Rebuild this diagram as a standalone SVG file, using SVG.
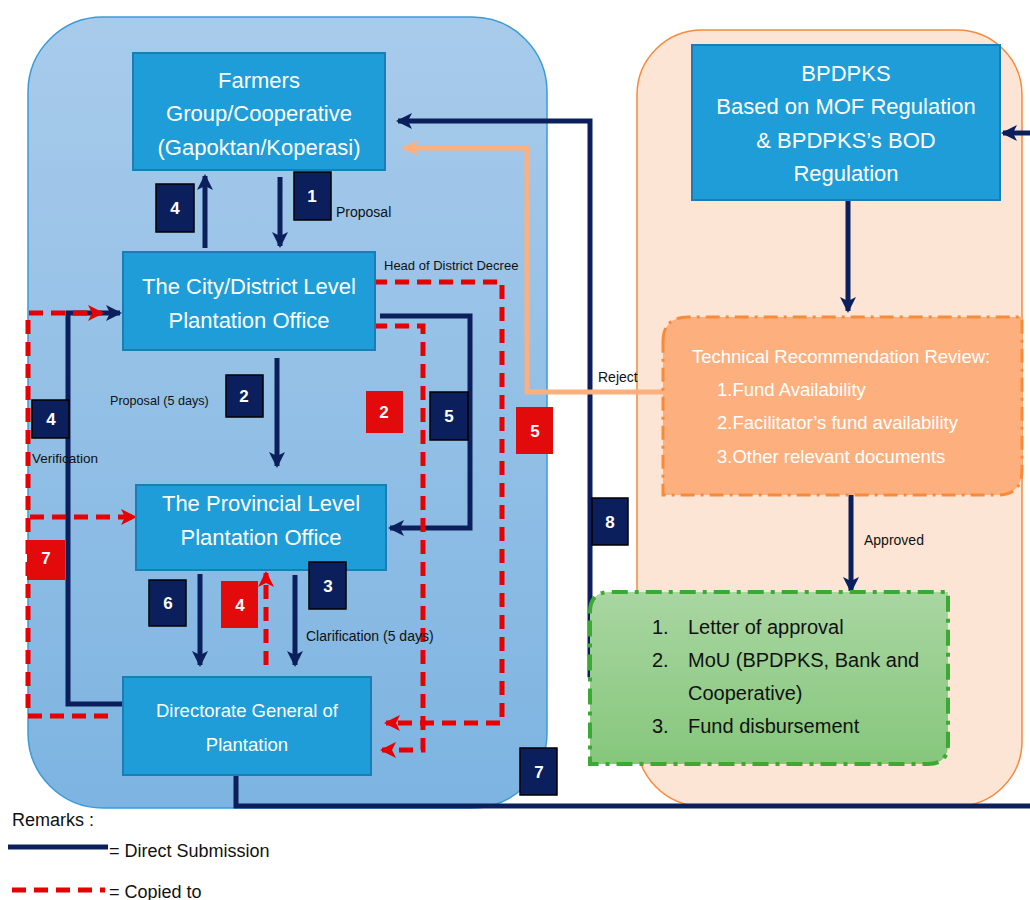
<svg xmlns="http://www.w3.org/2000/svg" width="1030" height="900" viewBox="0 0 1030 900">
<style>
.box{fill:#1e9dd8;stroke:#1a7db5;stroke-width:2}
.bt{fill:#fff;font-family:"Liberation Sans",Arial,sans-serif;font-size:22px;text-anchor:middle}
.nv{fill:#0b1f5c;stroke:#000;stroke-width:1.5}
.rd{fill:#e20a0a}
.nt{fill:#fff;font-family:"Liberation Sans",Arial,sans-serif;font-size:17px;font-weight:bold;text-anchor:middle}
.sm{fill:#111;font-family:"Liberation Sans",Arial,sans-serif;font-size:14px}
.ln{fill:none;stroke:#0b1f5c;stroke-width:5}
.dl{fill:none;stroke:#e60000;stroke-width:5;stroke-dasharray:14 8}
.ot{fill:#fff;font-family:"Liberation Sans",Arial,sans-serif;font-size:18.5px}
.gt{fill:#111;font-family:"Liberation Sans",Arial,sans-serif;font-size:20px}
.lg{fill:#111;font-family:"Liberation Sans",Arial,sans-serif;font-size:18px}
</style>
<defs>
<linearGradient id="gb" x1="0" y1="0" x2="0" y2="1"><stop offset="0" stop-color="#a8cbeb"/><stop offset="1" stop-color="#7db4e1"/></linearGradient>
<linearGradient id="gg" x1="0" y1="0" x2="0" y2="1"><stop offset="0" stop-color="#a9d6a1"/><stop offset="1" stop-color="#86c77c"/></linearGradient>
<marker id="an" markerUnits="userSpaceOnUse" markerWidth="18" markerHeight="18" refX="14" refY="9" orient="auto"><path d="M0,1 L16,9 L0,17 L4,9 Z" fill="#0b1f5c"/></marker>
<marker id="ar" markerUnits="userSpaceOnUse" markerWidth="18" markerHeight="18" refX="14" refY="9" orient="auto"><path d="M0,1 L16,9 L0,17 L4,9 Z" fill="#e60000"/></marker>
<marker id="ao" markerUnits="userSpaceOnUse" markerWidth="18" markerHeight="18" refX="14" refY="9" orient="auto"><path d="M0,1 L16,9 L0,17 L4,9 Z" fill="#fbb07e"/></marker>
</defs>
<rect width="1030" height="900" fill="#fff"/>
<g id="containers">
<rect x="28" y="17" width="519" height="791" rx="75" fill="url(#gb)" stroke="#3b9ad8" stroke-width="1.5"/>
<rect x="637" y="30" width="385" height="776" rx="65" fill="#fde5d5" stroke="#f68b3c" stroke-width="1.5"/>
</g>
<g id="connectors">
<line class="ln" x1="280" y1="177" x2="280" y2="246" marker-end="url(#an)"/>
<line class="ln" x1="205" y1="248" x2="205" y2="176" marker-end="url(#an)"/>
<line class="ln" x1="277" y1="358" x2="277" y2="466" marker-end="url(#an)"/>
<polyline class="ln" points="380,316 470,316 470,528 390,528" marker-end="url(#an)"/>
<polyline class="ln" points="123,704 68,704 68,313 120,313" marker-end="url(#an)"/>
<line class="ln" x1="200" y1="574" x2="200" y2="665" marker-end="url(#an)"/>
<line class="ln" x1="295" y1="575" x2="295" y2="665" marker-end="url(#an)"/>
<polyline class="ln" points="236,767 236,806 1030,806"/>
<line class="ln" x1="1030" y1="133" x2="1003" y2="133" marker-end="url(#an)"/>
<line class="ln" x1="848" y1="200" x2="848" y2="311" marker-end="url(#an)"/>
<line class="ln" x1="851" y1="485" x2="851" y2="591" marker-end="url(#an)"/>
<polyline class="ln" points="660,675 590,675 590,121 398,121" marker-end="url(#an)"/>
<polyline fill="none" stroke="#fbb07e" stroke-width="5" points="663,392 527,392 527,148 404,148" marker-end="url(#ao)"/>
<polyline class="dl" points="373,282 502,282 502,723 386,723" marker-end="url(#ar)"/>
<polyline class="dl" points="373,326 423,326 423,750 382,750" marker-end="url(#ar)"/>
<polyline class="dl" points="108,716 28,716 28,313 102,313" marker-end="url(#ar)"/>
<polyline class="dl" points="30,517 135,517" marker-end="url(#ar)"/>
<line class="dl" x1="266" y1="665" x2="266" y2="573" marker-end="url(#ar)"/>
</g>
<g id="farmers"><rect class="box" x="133" y="53" width="252" height="117"/>
<text class="bt" x="259" y="88">Farmers</text><text class="bt" x="259" y="121">Group/Cooperative</text><text class="bt" x="259" y="155">(Gapoktan/Koperasi)</text></g>
<g id="city"><rect class="box" x="123" y="252" width="252" height="98"/>
<text class="bt" x="249" y="294">The City/District Level</text><text class="bt" x="249" y="328">Plantation Office</text></g>
<g id="provincial"><rect class="box" x="136" y="485" width="250" height="85"/>
<text class="bt" x="261" y="511">The Provincial Level</text><text class="bt" x="261" y="545">Plantation Office</text></g>
<g id="directorate"><rect class="box" x="123" y="677" width="248" height="98"/>
<text class="bt" x="247" y="717" style="font-size:18.5px">Directorate General of</text><text class="bt" x="247" y="751" style="font-size:18.5px">Plantation</text></g>
<g id="bpdpks"><rect class="box" x="692" y="45" width="308" height="155"/>
<text class="bt" x="846" y="81">BPDPKS</text><text class="bt" x="846" y="114">Based on MOF Regulation</text><text class="bt" x="846" y="148">&amp; BPDPKS’s BOD</text><text class="bt" x="846" y="181">Regulation</text></g>
<g id="review"><path d="M663,342 Q663,317 688,317 H1022 V470 Q1022,495 997,495 H663 Z" fill="#fdb07e" stroke="#f68b3c" stroke-width="3" stroke-dasharray="14 6 3 6"/>
<text class="ot" x="692" y="363">Technical Recommendation Review:</text>
<text class="ot" x="717" y="396">1.Fund Availability</text>
<text class="ot" x="717" y="429">2.Facilitator’s fund availability</text>
<text class="ot" x="717" y="463">3.Other relevant documents</text></g>
<g id="approval"><path d="M590,612 Q590,592 610,592 H948 V744 Q948,764 928,764 H590 Z" fill="url(#gg)" stroke="#3aaa35" stroke-width="4" stroke-dasharray="16 7 4 7"/>
<text class="gt" x="652" y="634">1.</text><text class="gt" x="688" y="634">Letter of approval</text>
<text class="gt" x="652" y="667">2.</text><text class="gt" x="688" y="667">MoU (BPDPKS, Bank and</text>
<text class="gt" x="688" y="700">Cooperative)</text>
<text class="gt" x="652" y="733">3.</text><text class="gt" x="688" y="733">Fund disbursement</text></g>
<g id="labels">
<text class="sm" x="336" y="217">Proposal</text>
<text class="sm" x="384" y="270" style="font-size:13px">Head of District Decree</text>
<text class="sm" x="110" y="405" style="font-size:12.6px">Proposal (5 days)</text>
<text class="sm" x="32" y="463" style="font-size:13.5px">Verification</text>
<text class="sm" x="306" y="641">Clarification (5 days)</text>
<text class="sm" x="598" y="382">Reject</text>
<text class="sm" x="864" y="545">Approved</text>
</g>
<g id="steps">
<rect class="nv" x="294" y="172" width="37" height="48"/><text class="nt" x="312" y="202">1</text>
<rect class="nv" x="156" y="184" width="38" height="48"/><text class="nt" x="175" y="214">4</text>
<rect class="nv" x="226" y="375" width="37" height="42"/><text class="nt" x="244" y="402">2</text>
<rect class="rd" x="366" y="391" width="37" height="42"/><text class="nt" x="384" y="418">2</text>
<rect class="nv" x="430" y="392" width="38" height="48"/><text class="nt" x="449" y="422">5</text>
<rect class="rd" x="516" y="407" width="37" height="47"/><text class="nt" x="535" y="437">5</text>
<rect class="nv" x="32" y="400" width="37" height="38"/><text class="nt" x="51" y="425">4</text>
<rect class="rd" x="27" y="540" width="38" height="40"/><text class="nt" x="46" y="564">7</text>
<rect class="nv" x="149" y="580" width="37" height="46"/><text class="nt" x="168" y="609">6</text>
<rect class="rd" x="221" y="581" width="37" height="47"/><text class="nt" x="240" y="611">4</text>
<rect class="nv" x="309" y="562" width="37" height="47"/><text class="nt" x="328" y="592">3</text>
<rect class="nv" x="592" y="498" width="36" height="47"/><text class="nt" x="610" y="528">8</text>
<rect class="nv" x="520" y="748" width="37" height="47"/><text class="nt" x="539" y="778">7</text>
</g>
<g id="legend">
<text class="lg" x="12" y="826">Remarks :</text>
<line x1="8" y1="847" x2="108" y2="847" stroke="#0b1f5c" stroke-width="5"/>
<text class="lg" x="109" y="857">= Direct Submission</text>
<line x1="12" y1="890" x2="105" y2="890" stroke="#e60000" stroke-width="5" stroke-dasharray="14 8"/>
<text class="lg" x="109" y="898">= Copied to</text>
</g>
</svg>
